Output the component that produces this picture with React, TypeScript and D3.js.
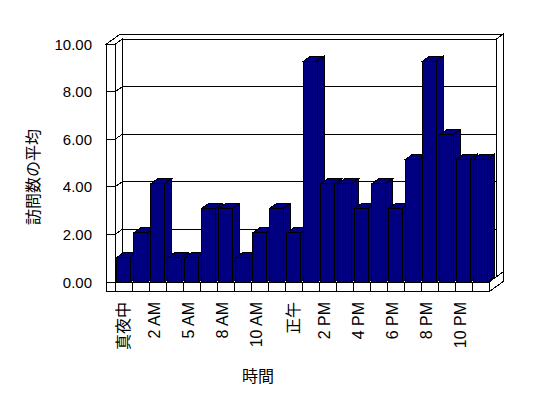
import React from "react";
import * as d3 from "d3";

const categories: string[] = [
  "真夜中", "1 AM", "2 AM", "3 AM", "5 AM", "6 AM", "8 AM", "9 AM", "10 AM", "11 AM", "正午",
  "1 PM", "2 PM", "3 PM", "4 PM", "5 PM", "6 PM", "7 PM", "8 PM", "9 PM", "10 PM", "11 PM",
];
const visits: number[] = [1, 2, 4, 1, 1, 3, 3, 1, 2, 3, 2, 9, 4, 4, 3, 4, 3, 5, 9, 6, 5, 5];
const yTicks: number[] = [0, 2, 4, 6, 8, 10];
const yTitle = "訪問数の平均";
const xTitle = "時間";

const W = 548;
const H = 398;
const FONT = "'Liberation Sans', 'Noto Sans CJK JP', sans-serif";

export default function App() {
  // front plane geometry
  const fx0 = 115;
  const fx1 = 489;
  const floorY = 282;
  const dx = 7;
  const dy = -5;
  const sideT = 9;
  const floorT = 9.7;

  const x = d3.scaleBand<string>().domain(categories).range([fx0, fx1]).paddingInner(0.2).paddingOuter(0.1);
  const step = x.step();
  const y = d3.scaleLinear().domain([0, 10]).range([floorY, 44.3]);
  const yBar = d3.scaleLinear().domain([0, 10]).range([floorY, 36.5]);

  const topF = y(10);
  const bx0 = fx0 + dx; // back wall inner left
  const bx1 = fx1 + dx; // back wall inner right
  const bTop = topF + dy;
  const bBot = floorY + dy;

  const pts = (arr: number[][]) => arr.map((p) => p.join(",")).join(" ");
  const st = { stroke: "#000", strokeWidth: 1, shapeRendering: "crispEdges" as const };

  const isCJK = (s: string) => /[\u3000-\u9fff]/.test(s);

  return (
    <svg width={W} height={H} style={{ position: "absolute", left: 0, top: 0, background: "#fff" }}>
      <rect x={0} y={0} width={W} height={H} fill="#fff" />
      {/* back wall front face */}
      <rect x={bx0} y={bTop} width={bx1 - bx0} height={bBot - bTop} fill="#fff" {...st} />
      {/* top of walls */}
      <polygon
        points={pts([
          [fx0 - sideT, topF],
          [fx0, topF],
          [bx0, bTop],
          [bx1, bTop],
          [bx1 + dx, bTop + dy],
          [fx0 - sideT + 2 * dx, topF + 2 * dy],
        ])}
        fill="#fff"
        {...st}
      />
      {/* back wall right face */}
      <polygon
        points={pts([
          [bx1, bTop],
          [bx1 + dx, bTop + dy],
          [bx1 + dx, floorY + floorT + 2 * dy],
          [fx1, floorY + floorT],
          [fx1, floorY],
          [bx1, bBot],
        ])}
        fill="#fff"
        {...st}
      />
      <line x1={fx1} y1={floorY} x2={bx1 + dx} y2={floorY + 2 * dy} {...st} />
      {/* side wall inner face */}
      <polygon points={pts([[fx0, topF], [bx0, bTop], [bx0, bBot], [fx0, floorY]])} fill="#fff" {...st} />
      {/* side wall front face */}
      <rect x={fx0 - sideT} y={topF} width={sideT} height={floorY + floorT - topF} fill="#fff" {...st} />
      {/* floor top */}
      <polygon points={pts([[fx0, floorY], [fx1, floorY], [bx1, bBot], [bx0, bBot]])} fill="#fff" {...st} />
      {/* floor front face */}
      <rect x={fx0} y={floorY} width={fx1 - fx0} height={floorT} fill="#fff" {...st} />
      {categories.slice(1).map((c, i) => {
        const xx = fx0 + (i + 1) * step;
        return <line key={"fd" + i} x1={xx} y1={floorY} x2={xx} y2={floorY + floorT} {...st} />;
      })}
      {/* gridlines and ticks */}
      {yTicks.map((t) => {
        const yy = y(t);
        return (
          <g key={"g" + t}>
            <line x1={fx0 - sideT} y1={yy} x2={fx0} y2={yy} {...st} />
            <line x1={fx0} y1={yy} x2={bx0} y2={yy + dy} {...st} />
            {t > 0 && t < 10 && <line x1={bx0} y1={yy + dy} x2={bx1} y2={yy + dy} {...st} />}
            <text
              x={92}
              y={yy}
              textAnchor="end"
              dominantBaseline="central"
              fontFamily={FONT}
              fontSize={15}
              fill="#000"
            >
              {t.toFixed(2)}
            </text>
          </g>
        );
      })}
      {/* bars */}
      {categories.map((c, i) => {
        const x0 = x(c)!;
        const bw = x.bandwidth();
        const x1 = x0 + bw;
        const yt = yBar(visits[i]);
        return (
          <g key={"b" + i}>
            <rect x={x0} y={yt} width={bw} height={floorY - yt} fill="#000080" {...st} />
            <polygon
              points={pts([[x0, yt], [x1, yt], [x1 + dx, yt + dy], [x0 + dx, yt + dy]])}
              fill="#000080"
              {...st}
            />
            <polygon
              points={pts([[x1, yt], [x1 + dx, yt + dy], [x1 + dx, floorY + dy], [x1, floorY]])}
              fill="#000080"
              {...st}
            />
          </g>
        );
      })}
      {/* category labels */}
      {categories.map((c, i) => {
        if (i % 2 !== 0) return null;
        const cx = fx0 + (i + 0.5) * step + (isCJK(c) ? 0 : -3);
        const ty = 302;
        return (
          <text
            key={"l" + i}
            transform={`translate(${cx},${ty}) rotate(-90)`}
            textAnchor="end"
            dominantBaseline="central"
            fontFamily={FONT}
            fontSize={16}
            fill="#000"
          >
            {c}
          </text>
        );
      })}
      <text
        transform={`translate(33,177) rotate(-90)`}
        textAnchor="middle"
        dominantBaseline="central"
        fontFamily={FONT}
        fontSize={16}
        fill="#000"
      >
        {yTitle}
      </text>
      <text x={258} y={376} textAnchor="middle" dominantBaseline="central" fontFamily={FONT} fontSize={16} fill="#000">
        {xTitle}
      </text>
    </svg>
  );
}
